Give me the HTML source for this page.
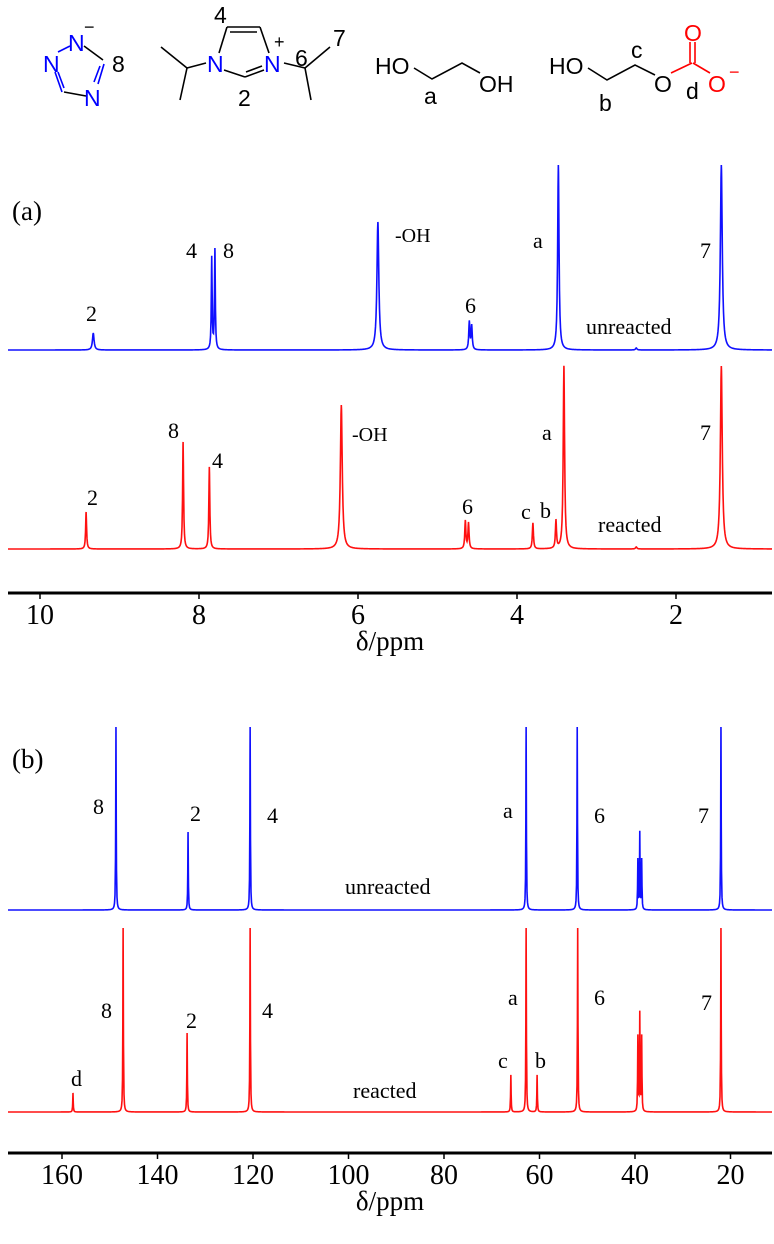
<!DOCTYPE html>
<html><head><meta charset="utf-8">
<style>
html,body{margin:0;padding:0;background:#fff;}
svg{display:block;}
.t{font-family:"Liberation Serif",serif;fill:#000;}
.s{font-family:"Liberation Sans",sans-serif;font-size:23px;}
</style></head>
<body>
<svg id="fig" width="774" height="1244" viewBox="0 0 774 1244" xmlns="http://www.w3.org/2000/svg">
<g stroke-width="1.6" fill="none">
  <g stroke="#000">
    <line x1="84" y1="46" x2="103" y2="60"/>
    <line x1="104" y1="64" x2="98" y2="84" stroke="#00f"/>
    <line x1="100" y1="66" x2="94" y2="82" stroke="#00f"/>
    <line x1="86" y1="96" x2="64" y2="92"/>
    <line x1="62" y1="92" x2="55" y2="72" stroke="#00f"/>
    <line x1="58" y1="72" x2="64" y2="88" stroke="#00f"/>
    <line x1="58" y1="52" x2="70" y2="46" stroke="#00f"/>
  </g>
  <g stroke="#000">
    <line x1="219" y1="53" x2="227" y2="27"/>
    <line x1="227" y1="27" x2="260" y2="27"/>
    <line x1="230" y1="32" x2="257" y2="32"/>
    <line x1="260" y1="27" x2="269" y2="53"/>
    <line x1="224" y1="70" x2="245" y2="77"/>
    <line x1="245" y1="77" x2="264" y2="70"/>
    <line x1="246" y1="72" x2="262" y2="66"/>
    <line x1="206" y1="63" x2="187" y2="68"/>
    <line x1="187" y1="68" x2="161" y2="47"/>
    <line x1="187" y1="68" x2="180" y2="100"/>
    <line x1="284" y1="63" x2="305" y2="68"/>
    <line x1="305" y1="68" x2="330" y2="47"/>
    <line x1="305" y1="68" x2="311" y2="100"/>
  </g>
  <g stroke="#000">
    <polyline points="414,68 432,79 462,63 480,73"/>
  </g>
  <g stroke="#000">
    <polyline points="588,68 607,80 635,65 655,75"/>
    <line x1="671" y1="73" x2="692" y2="63" stroke="#f00"/>
    <line x1="690" y1="63" x2="690" y2="42" stroke="#f00"/>
    <line x1="695" y1="63" x2="695" y2="42" stroke="#f00"/>
    <line x1="693" y1="63" x2="710" y2="73" stroke="#f00"/>
  </g>
</g>
<g class="s">
  <text x="68" y="51" fill="#00f">N</text>
  <text x="84" y="33" fill="#000" font-size="18">−</text>
  <text x="43" y="72" fill="#00f">N</text>
  <text x="84" y="106" fill="#00f">N</text>
  <text x="112" y="72" fill="#000">8</text>
  <text x="207" y="72" fill="#00f">N</text>
  <text x="264" y="72" fill="#00f">N</text>
  <text x="274" y="48" fill="#000" font-size="18">+</text>
  <text x="214" y="23" fill="#000">4</text>
  <text x="238" y="106" fill="#000">2</text>
  <text x="295" y="66" fill="#000">6</text>
  <text x="333" y="46" fill="#000">7</text>
  <text x="375" y="74" fill="#000">HO</text>
  <text x="479" y="92" fill="#000">OH</text>
  <text x="424" y="104" fill="#000">a</text>
  <text x="549" y="74" fill="#000">HO</text>
  <text x="654" y="92" fill="#000">O</text>
  <text x="684" y="41" fill="#f00">O</text>
  <text x="708" y="92" fill="#f00">O</text>
  <text x="729" y="78" fill="#f00" font-size="18">−</text>
  <text x="599" y="111" fill="#000">b</text>
  <text x="631" y="58" fill="#000">c</text>
  <text x="686" y="99" fill="#000">d</text>
</g>
<g id="plots"></g>
</svg>
<script>
// Panel (a) 1H
const hPpmBlue = [9.33, 7.84, 7.80, 5.75, 4.60, 4.57, 3.48, 1.43, 2.50];
const hIntBlue = [17, 92, 100, 128, 28, 24, 185, 185, 2];
const hWidBlue = [0.012, 0.006, 0.006, 0.014, 0.008, 0.008, 0.01, 0.014, 0.01];
const hPpmRed = [9.42, 8.20, 7.87, 6.21, 4.65, 4.61, 3.80, 3.51, 3.41, 1.43, 2.50];
const hIntRed = [37, 107, 82, 144, 28, 26, 26, 28, 183, 183, 2];
const hWidRed = [0.007, 0.007, 0.007, 0.014, 0.008, 0.008, 0.008, 0.008, 0.01, 0.014, 0.01];
const hTicks = [10, 8, 6, 4, 2];
// Panel (b) 13C
const cPpmBlue = [148.7, 133.6, 120.6, 62.8, 52.1, 39.4, 39.0, 38.6, 22.0];
const cIntBlue = [183, 78, 183, 183, 183, 50, 77, 50, 183];
const cPpmRed = [157.7, 147.2, 133.8, 120.6, 66.0, 62.8, 60.5, 52.0, 39.4, 39.0, 38.6, 22.0];
const cIntRed = [19, 184, 79, 184, 37, 184, 37, 184, 75, 98, 75, 184];
const cTicks = [160, 140, 120, 100, 80, 60, 40, 20];

const NS = 'http://www.w3.org/2000/svg';
const plots = document.getElementById('plots');
function mk(tag, attrs, parent, text) {
  const e = document.createElementNS(NS, tag);
  for (const k in attrs) e.setAttribute(k, attrs[k]);
  if (text !== undefined) e.textContent = text;
  (parent || plots).appendChild(e);
  return e;
}
const xA = p => 40 + (10 - p) * 79.5;
const xB = p => 62 + (160 - p) * 4.775;
const pA = x => 10 - (x - 40) / 79.5;
const pB = x => 160 - (x - 62) / 4.775;

function spectrum(name, ppm, ints, wids, defW, xf, pf, base, color) {
  const xs = [];
  for (let x = 8; x <= 772; x += 0.5) xs.push(x);
  ppm.forEach(p => { const x = xf(p); xs.push(x - 0.3, x, x + 0.3); });
  xs.sort((a, b) => a - b);
  let d = '';
  xs.forEach(x => {
    if (x < 8 || x > 772) return;
    const p = pf(x);
    let y = 0;
    ppm.forEach((c, k) => {
      const w = wids ? wids[k] : defW;
      const u = (p - c) / w;
      y += ints[k] / (1 + u * u);
    });
    d += (d ? 'L' : 'M') + x.toFixed(2) + ',' + (base - y).toFixed(2);
  });
  const path = mk('path', {d: d, fill: 'none', stroke: color, 'stroke-width': 1.6});
  
  
}
spectrum('h-spectrum-unreacted', hPpmBlue, hIntBlue, hWidBlue, 0, xA, pA, 350, '#1010ff');
spectrum('h-spectrum-reacted', hPpmRed, hIntRed, hWidRed, 0, xA, pA, 549, '#ff1010');
spectrum('c-spectrum-unreacted', cPpmBlue, cIntBlue, null, 0.06, xB, pB, 910, '#1010ff');
spectrum('c-spectrum-reacted', cPpmRed, cIntRed, null, 0.06, xB, pB, 1112, '#ff1010');

function axis(name, y, ticks, xf, labelY, titleY) {
  const g = mk('g', {});
  
  
  const l = mk('line', {x1: 8, x2: 772, y1: y, y2: y, stroke: '#000', 'stroke-width': 3}, g);
  
  
  ticks.forEach(t => {
    const x = xf(t);
    const tk = mk('line', {x1: x, x2: x, y1: y, y2: y + 6, stroke: '#000', 'stroke-width': 1.5}, g);
    
    
    const tl = mk('text', {x: x, y: labelY, 'text-anchor': 'middle', 'font-size': 28, class: 't'}, g, String(t));
    
    
  });
  const tt = mk('text', {x: 390, y: titleY, 'text-anchor': 'middle', 'font-size': 27, class: 't'}, g, 'δ/ppm');
  
  
}
axis('x-axis-a', 593, hTicks, xA, 624, 650);
axis('x-axis-b', 1153, cTicks, xB, 1184, 1210);

const labels = [
  ['(a)', 12, 220, 27, 'panel-a-label'], ['2', 86, 321, 22], ['4', 186, 258, 22], ['8', 223, 258, 22],
  ['-OH', 395, 242, 20], ['6', 465, 313, 22], ['a', 533, 248, 22], ['7', 700, 258, 22],
  ['unreacted', 586, 334, 22, 'label-unreacted-a'],
  ['2', 87, 505, 22], ['8', 168, 438, 22], ['4', 212, 468, 22], ['-OH', 352, 441, 20],
  ['6', 462, 514, 22], ['c', 521, 519, 22], ['b', 540, 518, 22], ['a', 542, 440, 22], ['7', 700, 440, 22],
  ['reacted', 598, 532, 22, 'label-reacted-a'],
  ['(b)', 12, 768, 27, 'panel-b-label'], ['8', 93, 814, 22], ['2', 190, 821, 22], ['4', 267, 823, 22],
  ['a', 503, 818, 22], ['6', 594, 823, 22], ['7', 698, 823, 22], ['unreacted', 345, 894, 22, 'label-unreacted-b'],
  ['d', 71, 1086, 22], ['8', 101, 1018, 22], ['2', 186, 1028, 22], ['4', 262, 1018, 22],
  ['c', 498, 1068, 22], ['a', 508, 1005, 22], ['b', 535, 1068, 22], ['6', 594, 1005, 22], ['7', 701, 1010, 22],
  ['reacted', 353, 1098, 22, 'label-reacted-b']
];
labels.forEach(L => {
  const t = mk('text', {x: L[1], y: L[2], 'font-size': L[3], class: 't'}, plots, L[0]);
  
  
});
</script>
</body></html>
